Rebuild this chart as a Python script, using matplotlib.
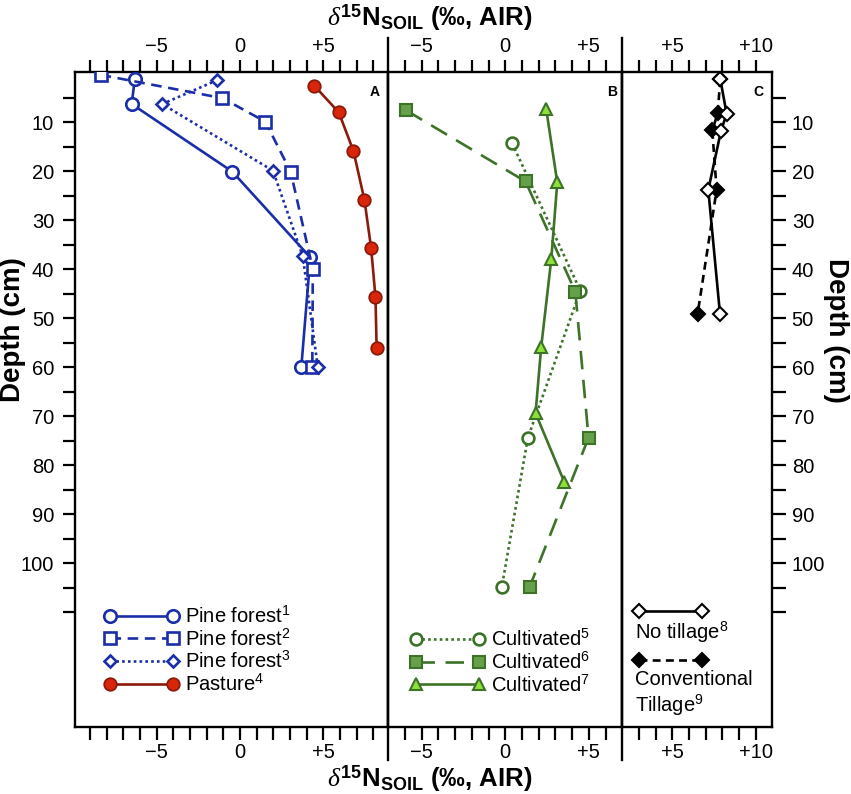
import numpy as np
import matplotlib
matplotlib.use("Agg")
import matplotlib.pyplot as plt
from matplotlib.lines import Line2D
from matplotlib.ticker import FixedLocator, FuncFormatter

plt.rcParams['font.family'] = ['Liberation Sans', 'DejaVu Sans']
plt.rcParams['mathtext.fontset'] = 'custom'
plt.rcParams['mathtext.rm'] = 'Liberation Sans'
plt.rcParams['mathtext.it'] = 'Liberation Serif:italic'
plt.rcParams['mathtext.bf'] = 'Liberation Sans:bold'

# ---------------- data ----------------
pf1_x = [-6.31, -6.50, -0.46, 4.22, 3.68]
pf1_d = [1.2, 6.3, 20.1, 37.6, 60.0]
pf2_x = [-8.36, -1.05, 1.52, 3.04, 4.37, 4.34]
pf2_d = [0.35, 5.1, 9.9, 20.1, 40.0, 60.0]
pf3_x = [-1.35, -4.67, 1.98, 3.77, 4.67]
pf3_d = [1.4, 6.3, 19.9, 37.4, 60.0]
past_x = [4.47, 5.93, 6.81, 7.47, 7.87, 8.13, 8.20]
past_d = [2.6, 8.0, 15.9, 25.9, 35.7, 45.7, 56.1]

c5_x = [0.41, 4.49, 1.35, -0.21]
c5_d = [14.3, 44.4, 74.4, 104.9]
c6_x = [-5.93, 1.21, 4.19, 4.98, 1.45]
c6_d = [7.6, 22.1, 44.6, 74.4, 104.9]
c7_x = [2.45, 3.11, 2.75, 2.15, 1.81, 3.54]
c7_d = [7.4, 22.3, 38.0, 55.8, 69.4, 83.5]

nt_x = [7.88, 8.26, 7.92, 7.16, 7.86]
nt_d = [1.2, 8.3, 11.8, 23.8, 49.1]
ct_x = [7.88, 7.72, 7.40, 7.66, 6.52]
ct_d = [1.2, 8.2, 11.7, 23.8, 49.1]

labels_A = ['Pine forest$^{\\mathrm{1}}$', 'Pine forest$^{\\mathrm{2}}$',
            'Pine forest$^{\\mathrm{3}}$', 'Pasture$^{\\mathrm{4}}$']
labels_B = ['Cultivated$^{\\mathrm{5}}$', 'Cultivated$^{\\mathrm{6}}$',
            'Cultivated$^{\\mathrm{7}}$']
label_nt = 'No tillage$^{\\mathrm{8}}$'
label_ct = 'Conventional\nTillage$^{\\mathrm{9}}$'

xlabels_A = [-5, 0, 5]
xlabels_B = [-5, 0, 5]
xlabels_C = [5, 10]
ylabels = list(range(10, 101, 10))

# ---------------- layout ----------------
W, H = 851, 794
fig = plt.figure(figsize=(W / 100, H / 100), dpi=100)
top_px, bot_px = 71.7, 727.3
ax_b = (H - bot_px) / H
ax_h = (bot_px - top_px) / H
axA = fig.add_axes([75 / W, ax_b, (388.3 - 75) / W, ax_h])
axB = fig.add_axes([388.3 / W, ax_b, (622.3 - 388.3) / W, ax_h])
axC = fig.add_axes([622.3 / W, ax_b, (772.3 - 622.3) / W, ax_h])

blue = '#1a2ea8'
red_line = '#8c1a0c'
red_fill = '#d9260a'
green = '#3d7229'
green_fill = '#66a04a'
lime = '#8fe03a'

lw = 1.9
axA.plot(pf1_x, pf1_d, '-', color=blue, lw=lw, marker='o', ms=9, mfc='white',
         mec=blue, mew=1.9, label=labels_A[0], zorder=3)
axA.plot(pf2_x, pf2_d, color=blue, lw=lw, ls=(0, (4, 2.5)), marker='s', ms=9,
         mfc='white', mec=blue, mew=1.9, label=labels_A[1], zorder=3)
axA.plot(pf3_x, pf3_d, color=blue, lw=lw, ls=(0, (1, 1.2)), marker='D', ms=6.5,
         mfc='white', mec=blue, mew=1.9, label=labels_A[2], zorder=3)
axA.plot(past_x, past_d, '-', color=red_line, lw=lw, marker='o', ms=9,
         mfc=red_fill, mec=red_line, mew=1.3, label=labels_A[3], zorder=3)

axB.plot(c5_x, c5_d, color=green, lw=lw, ls=(0, (1, 1.2)), marker='o', ms=8.5,
         mfc='white', mec=green, mew=1.9, label=labels_B[0], zorder=3)
axB.plot(c6_x, c6_d, color=green, lw=lw, ls=(0, (7, 4)), marker='s', ms=9,
         mfc=green_fill, mec=green, mew=1.5, label=labels_B[1], zorder=3)
axB.plot(c7_x, c7_d, '-', color=green, lw=lw, marker='^', ms=8.5,
         mfc=lime, mec=green, mew=1.5, label=labels_B[2], zorder=3)

ct_line, = axC.plot(ct_x, ct_d, color='black', lw=lw, ls=(0, (3, 2)), marker='D',
                    ms=7, mfc='black', mec='black', mew=1.5, zorder=3)
nt_line, = axC.plot(nt_x, nt_d, '-', color='black', lw=lw, marker='D', ms=7,
                    mfc='white', mec='black', mew=1.5, zorder=4)

# ---------------- axes styling ----------------
def xfmt(labelled):
    def f(v, pos):
        iv = int(round(v))
        if iv not in labelled:
            return ''
        if iv == 0:
            return '0'
        return ('+%d' % iv) if iv > 0 else ('\u2212%d' % -iv)
    return FuncFormatter(f)

def yfmt(v, pos):
    iv = int(round(v))
    return str(iv) if iv in ylabels else ''

for ax, xl, xt, labelled in [(axA, (-9.9, 8.9), range(-9, 9), xlabels_A),
                             (axB, (-7, 7), range(-6, 7), xlabels_B),
                             (axC, (2, 11), range(3, 11), xlabels_C)]:
    ax.set_xlim(*xl)
    ax.set_ylim(133.5, -0.3)
    ax.xaxis.set_major_locator(FixedLocator(list(xt)))
    ax.xaxis.set_major_formatter(xfmt(labelled))
    ax.tick_params(axis='x', which='both', top=True, bottom=True, labeltop=True,
                   labelbottom=True, direction='out', length=9, width=1.6,
                   labelsize=14.5, pad=2)
    for s in ax.spines.values():
        s.set_linewidth(1.7)
    ax.yaxis.set_major_locator(FixedLocator(list(range(5, 111, 5))))
    ax.yaxis.set_major_formatter(FuncFormatter(yfmt))

axA.tick_params(axis='y', left=True, right=False, labelleft=True, labelright=False,
                direction='out', length=9, width=1.6, labelsize=14.5, pad=6)
axB.tick_params(axis='y', left=False, right=False, labelleft=False, labelright=False)
axC.tick_params(axis='y', left=False, right=True, labelleft=False, labelright=True,
                direction='out', length=10, width=1.6, labelsize=14.5, pad=4)

# panel letters
for ax, t in [(axA, 'A'), (axB, 'B'), (axC, 'C')]:
    ax.text(0.955 if ax is not axC else 0.905, 0.98, t, transform=ax.transAxes,
            ha='center', va='top', fontsize=10, fontweight='bold')

# extended separators
for xp in (388.3, 622.3):
    fig.add_artist(Line2D([xp / W, xp / W], [(H - 760) / H, (H - 38.3) / H],
                          transform=fig.transFigure, color='black', lw=1.7))

# ---------------- legends ----------------
legA = axA.legend(loc='center left', bbox_to_anchor=(0.091, 0.1176), frameon=False,
                  numpoints=2, handlelength=3.75, handletextpad=0.3, fontsize=14.5,
                  labelspacing=0.08, borderpad=0, borderaxespad=0)
legB = axB.legend(loc='center left', bbox_to_anchor=(0.092, 0.0996), frameon=False,
                  numpoints=2, handlelength=3.75, handletextpad=0.3, fontsize=14.5,
                  labelspacing=0.08, borderpad=0, borderaxespad=0)

leg_nt = axC.legend([nt_line], [''], loc='center left',
                    bbox_to_anchor=(0.073, (bot_px - 612.7) / (bot_px - top_px)),
                    frameon=False, numpoints=2, handlelength=3.7, handletextpad=0,
                    fontsize=14.5, borderpad=0, borderaxespad=0)
axC.add_artist(leg_nt)
leg_ct = axC.legend([ct_line], [''], loc='center left',
                    bbox_to_anchor=(0.073, (bot_px - 661.7) / (bot_px - top_px)),
                    frameon=False, numpoints=2, handlelength=3.7, handletextpad=0,
                    fontsize=14.5, borderpad=0, borderaxespad=0)
axC.text(0.085, (bot_px - 632.5) / (bot_px - top_px), label_nt, transform=axC.transAxes,
         ha='left', va='center', fontsize=14.5)
axC.text(0.085, (bot_px - 694) / (bot_px - top_px), label_ct, transform=axC.transAxes,
         ha='left', va='center', fontsize=14.5, linespacing=1.2)

# ---------------- axis titles ----------------
xtitle = r'$\mathit{\delta}^{\mathbf{15}}\mathbf{N}_{\mathbf{SOIL}}$ (‰, AIR)'
fig.text(430 / W, 1 - 18 / H, xtitle, ha='center', va='center', fontsize=18.5,
         fontweight='bold')
fig.text(430 / W, 15.5 / H, xtitle, ha='center', va='center', fontsize=18.5,
         fontweight='bold')
fig.text(13 / W, 1 - 330 / H, 'Depth (cm)', rotation=90, ha='center', va='center',
         fontsize=20, fontweight='bold')
fig.text(836 / W, 1 - 330 / H, 'Depth (cm)', rotation=270, ha='center', va='center',
         fontsize=20, fontweight='bold')

fig.savefig('out.png', dpi=100)
